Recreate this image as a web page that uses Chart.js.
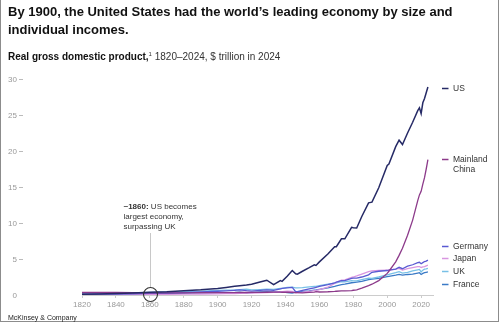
<!DOCTYPE html>
<html>
<head>
<meta charset="utf-8">
<script src="https://cdn.jsdelivr.net/npm/chart.js@4/dist/chart.umd.min.js"></script>
<style>
	html, body { margin: 0; padding: 0; background: #fff; }
	body { width: 500px; height: 324px; position: relative; overflow: hidden; font-family: "Liberation Sans", Arial, sans-serif; }
	#frame { position: absolute; left: 0; top: 0; width: 497px; height: 321px; border: 1px solid #8c8c8c; border-top: none; }
	#title { position: absolute; left: 8px; top: 3px; font-size: 13px; line-height: 18px; font-weight: bold; color: #111; }
	#subtitle { position: absolute; left: 8px; top: 51px; font-size: 10px; line-height: 12px; color: #333; white-space: nowrap; }
	#subtitle b { color: #111; }
	#subtitle sup { font-size: 6px; vertical-align: 4px; line-height: 0; }
	#source { position: absolute; left: 8px; top: 314px; font-size: 7px; line-height: 8px; color: #222; }
	canvas { position: absolute; left: 0; top: 0; }
</style>
</head>
<body>
<div id="frame"></div>
<canvas id="chart" width="500" height="324"></canvas>
<div id="title">By 1900, the United States had the world’s leading economy by size and<br>individual incomes.</div>
<div id="subtitle"><b>Real gross domestic product,</b><sup>1</sup> 1820–2024, $ trillion in 2024</div>
<div id="source">McKinsey &amp; Company</div>
<script>
const years = [
	1820, 1830, 1840, 1850, 1860, 1870, 1880, 1890,
	1900, 1905, 1910, 1913, 1917, 1920, 1925, 1929,
	1933, 1937, 1938, 1941, 1944, 1946, 1947, 1950,
	1954, 1957, 1958, 1960, 1965, 1969, 1970, 1973,
	1975, 1979, 1980, 1982, 1985, 1989, 1991, 1995,
	2000, 2001, 2005, 2007, 2009, 2012, 2015, 2018,
	2019, 2020, 2021, 2022, 2023, 2024,
];

const us = [
	0.12, 0.15, 0.2, 0.28, 0.38, 0.45, 0.6, 0.72,
	0.9, 1.05, 1.2, 1.3, 1.4, 1.5, 1.8, 2.05,
	1.45, 2.0, 1.9, 2.6, 3.4, 2.95, 2.9, 3.3,
	3.8, 4.2, 4.1, 4.6, 5.7, 6.7, 6.7, 7.8,
	7.8, 9.4, 9.35, 9.3, 10.9, 12.8, 12.9, 14.9,
	18.0, 18.2, 20.6, 21.5, 20.9, 22.5, 24.0, 25.6,
	26.0, 25.2, 26.7, 27.3, 28.1, 28.9,
];

const china = [
	0.35, 0.35, 0.36, 0.34, 0.3, 0.3, 0.3, 0.32,
	0.32, 0.33, 0.34, 0.35, 0.35, 0.36, 0.37, 0.38,
	0.4, 0.4, 0.38, 0.38, 0.36, 0.33, 0.33, 0.3,
	0.36, 0.4, 0.46, 0.42, 0.45, 0.5, 0.52, 0.56,
	0.58, 0.62, 0.66, 0.72, 0.95, 1.3, 1.5, 2.0,
	3.0, 3.3, 4.6, 5.5, 6.5, 8.3, 10.4, 13.1,
	13.9, 14.4, 15.4, 16.3, 17.5, 18.8,
];

const germany = [
	0.1, 0.12, 0.14, 0.17, 0.22, 0.27, 0.33, 0.42,
	0.52, 0.58, 0.65, 0.7, 0.6, 0.55, 0.65, 0.72,
	0.65, 0.85, 0.92, 1.0, 1.05, 0.45, 0.48, 0.65,
	0.85, 1.0, 1.05, 1.2, 1.45, 1.7, 1.8, 2.0,
	2.0, 2.3, 2.35, 2.35, 2.5, 2.8, 3.15, 3.3,
	3.4, 3.45, 3.6, 3.85, 3.65, 4.0, 4.2, 4.5,
	4.55, 4.35, 4.5, 4.65, 4.7, 4.85,
];

const japan = [
	0.07, 0.07, 0.08, 0.08, 0.09, 0.1, 0.12, 0.14,
	0.17, 0.18, 0.2, 0.22, 0.26, 0.27, 0.31, 0.35,
	0.38, 0.45, 0.48, 0.52, 0.5, 0.3, 0.32, 0.38,
	0.5, 0.6, 0.63, 0.75, 1.1, 1.6, 1.75, 2.05,
	2.1, 2.45, 2.5, 2.65, 2.9, 3.25, 3.35, 3.4,
	3.45, 3.45, 3.6, 3.7, 3.45, 3.65, 3.8, 3.95,
	3.95, 3.8, 3.9, 3.95, 4.05, 4.15,
];

const uk = [
	0.15, 0.19, 0.24, 0.29, 0.36, 0.42, 0.48, 0.55,
	0.64, 0.67, 0.7, 0.75, 0.8, 0.7, 0.75, 0.8,
	0.78, 0.9, 0.92, 1.05, 1.1, 1.0, 0.98, 1.02,
	1.12, 1.2, 1.2, 1.3, 1.5, 1.65, 1.68, 1.85,
	1.82, 2.0, 1.95, 1.95, 2.15, 2.35, 2.3, 2.5,
	2.8, 2.85, 3.1, 3.25, 3.05, 3.15, 3.35, 3.5,
	3.55, 3.2, 3.45, 3.6, 3.62, 3.7,
];

const france = [
	0.12, 0.14, 0.16, 0.18, 0.21, 0.22, 0.25, 0.28,
	0.33, 0.34, 0.36, 0.4, 0.3, 0.34, 0.43, 0.47,
	0.42, 0.45, 0.45, 0.33, 0.28, 0.4, 0.43, 0.5,
	0.58, 0.68, 0.7, 0.78, 1.0, 1.2, 1.27, 1.45,
	1.5, 1.7, 1.72, 1.78, 1.88, 2.15, 2.2, 2.3,
	2.55, 2.6, 2.75, 2.85, 2.75, 2.85, 2.9, 3.05,
	3.1, 2.85, 3.0, 3.1, 3.15, 3.2,
];

const xTicks = [1820, 1840, 1860, 1880, 1900, 1920, 1940, 1960, 1980, 2000, 2020];
const yTicks = [0, 5, 10, 15, 20, 25, 30];

const FONT = '"Liberation Sans", Arial, sans-serif';

// series, colour and where its label sits on the right (in $ trillion)
const series = [
	{ name: ["US"], values: us, color: "#262a66", width: 1.5, labelAt: 28.8 },
	{ name: ["Mainland", "China"], values: china, color: "#8c3a8a", width: 1.3, labelAt: 18.9 },
	{ name: ["Germany"], values: germany, color: "#5a5ad2", width: 1.3, labelAt: 6.8 },
	{ name: ["Japan"], values: japan, color: "#d896e0", width: 1.3, labelAt: 5.1 },
	{ name: ["UK"], values: uk, color: "#78c0e6", width: 1.3, labelAt: 3.4 },
	{ name: ["France"], values: france, color: "#3b7ac6", width: 1.3, labelAt: 1.55 },
];

const note = { year: 1860, lines: [["~1860:", " US becomes"], ["", "largest economy,"], ["", "surpassing UK"]] };

const extras = {
	id: "extras",
	afterDatasetsDraw(chart) {
		const { ctx, scales: { x, y } } = chart;
		ctx.save();

		// y labels, right aligned far from the plot, with a small dash
		ctx.font = "8px " + FONT;
		ctx.textAlign = "right";
		ctx.textBaseline = "middle";
		yTicks.forEach((v) => {
			const py = Math.round(y.getPixelForValue(v)) + 0.5;
			ctx.fillStyle = "#999";
			ctx.fillText(String(v), 17, py);
			if (v === 0) return;
			ctx.strokeStyle = "#bbb";
			ctx.lineWidth = 1;
			ctx.beginPath();
			ctx.moveTo(19, py);
			ctx.lineTo(23, py);
			ctx.stroke();
		});

		// annotation
		const ax = Math.round(x.getPixelForValue(note.year)) + 0.5;
		const ay = y.getPixelForValue(0);
		ctx.strokeStyle = "#c8c8c8";
		ctx.lineWidth = 1;
		ctx.beginPath();
		ctx.moveTo(ax, 233);
		ctx.lineTo(ax, ay - 7.5);
		ctx.stroke();
		ctx.strokeStyle = "#333";
		ctx.lineWidth = 1.1;
		ctx.beginPath();
		ctx.arc(ax, ay - 0.5, 7, 0, Math.PI * 2);
		ctx.stroke();

		ctx.textBaseline = "alphabetic";
		ctx.textAlign = "left";
		ctx.fillStyle = "#333";
		note.lines.forEach(([bold, rest], i) => {
			let tx = 123.5;
			const ty = 209 + i * 10;
			if (bold) {
				ctx.font = "bold 8px " + FONT;
				ctx.fillText(bold, tx, ty);
				tx += ctx.measureText(bold).width;
			}
			ctx.font = "8px " + FONT;
			ctx.fillText(rest, tx, ty);
		});

		// right-hand labels
		series.forEach((s) => {
			const py = Math.round(y.getPixelForValue(s.labelAt)) + 0.5;
			ctx.strokeStyle = s.color;
			ctx.lineWidth = 1.5;
			ctx.beginPath();
			ctx.moveTo(442, py);
			ctx.lineTo(448.5, py);
			ctx.stroke();
			ctx.fillStyle = "#333";
			ctx.font = "8.5px " + FONT;
			ctx.textBaseline = "middle";
			s.name.forEach((line, i) => {
				ctx.fillText(line, 453, py + i * 10.5);
			});
		});

		ctx.restore();
	},
};

new Chart(document.getElementById("chart"), {
	type: "line",
	data: {
		datasets: series.map((s) => ({
			label: s.name.join(" "),
			data: years.map((yr, i) => ({ x: yr, y: s.values[i] })),
			borderColor: s.color,
			borderWidth: s.width,
			pointRadius: 0,
			tension: 0,
			fill: false,
		})),
	},
	options: {
		responsive: false,
		animation: false,
		layout: { padding: { top: 79, right: 67, left: 0, bottom: 0 } },
		plugins: { legend: { display: false }, tooltip: { enabled: false } },
		scales: {
			x: {
				type: "linear",
				min: 1820,
				max: 2027,
				afterFit: (s) => { s.height = 29; },
				afterBuildTicks: (s) => { s.ticks = xTicks.map((v) => ({ value: v })); },
				ticks: {
					color: "#999",
					font: { size: 8, family: FONT },
					padding: 2,
					maxRotation: 0,
					callback: (v) => String(v),
				},
				grid: { drawOnChartArea: false, drawTicks: true, tickLength: 3, color: "#ccc" },
				border: { color: "#ccc" },
			},
			y: {
				min: 0,
				max: 30,
				afterFit: (s) => { s.width = 82; s.paddingTop = 0; s.paddingBottom = 0; },
				ticks: { display: false },
				grid: { display: false, drawTicks: false },
				border: { display: false },
			},
		},
	},
	plugins: [extras],
});
</script>
</body>
</html>
